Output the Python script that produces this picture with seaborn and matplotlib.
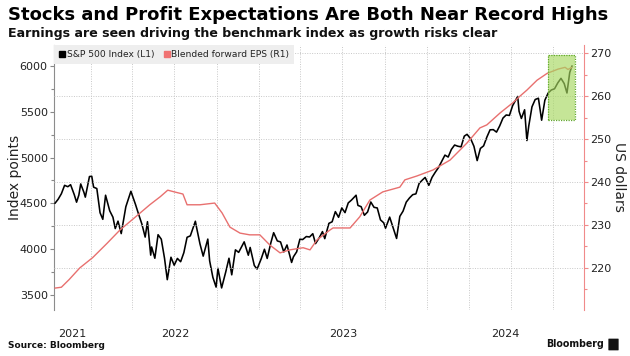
import numpy as np
import pandas as pd
import matplotlib
matplotlib.use("Agg")
import matplotlib.pyplot as plt
import matplotlib.dates as mdates
import matplotlib.ticker as mticker
from matplotlib.lines import Line2D
from matplotlib.patches import Rectangle, FancyBboxPatch
import seaborn as sns

# ---------------- data ----------------
sp_dates = [
    "2021-10-15", "2021-10-22", "2021-10-29", "2021-11-05", "2021-11-12", "2021-11-18", "2021-11-26",
    "2021-12-01", "2021-12-06", "2021-12-10", "2021-12-17", "2021-12-20", "2021-12-29",
    "2022-01-03", "2022-01-07", "2022-01-14", "2022-01-21", "2022-01-27", "2022-02-02", "2022-02-11",
    "2022-02-18", "2022-02-23", "2022-03-01", "2022-03-08", "2022-03-18", "2022-03-29", "2022-04-08",
    "2022-04-14", "2022-04-22", "2022-04-29", "2022-05-04", "2022-05-11", "2022-05-13", "2022-05-20",
    "2022-05-27", "2022-06-03", "2022-06-10", "2022-06-16", "2022-06-24", "2022-07-01", "2022-07-08",
    "2022-07-15", "2022-07-22", "2022-07-29", "2022-08-05", "2022-08-16", "2022-08-19", "2022-08-26",
    "2022-09-02", "2022-09-12", "2022-09-16", "2022-09-23", "2022-09-30", "2022-10-04", "2022-10-12",
    "2022-10-21", "2022-10-28", "2022-11-03", "2022-11-11", "2022-11-18", "2022-11-30", "2022-12-09",
    "2022-12-13", "2022-12-22", "2022-12-28", "2023-01-06", "2023-01-13", "2023-01-19", "2023-01-27",
    "2023-02-02", "2023-02-10", "2023-02-17", "2023-02-24", "2023-03-03", "2023-03-13", "2023-03-17",
    "2023-03-24", "2023-03-31", "2023-04-06", "2023-04-14", "2023-04-21", "2023-04-28", "2023-05-04",
    "2023-05-12", "2023-05-19", "2023-05-24", "2023-06-02", "2023-06-09", "2023-06-16", "2023-06-23",
    "2023-06-30", "2023-07-07", "2023-07-14", "2023-07-21", "2023-07-31", "2023-08-04", "2023-08-11",
    "2023-08-18", "2023-08-25", "2023-09-01", "2023-09-08", "2023-09-15", "2023-09-22", "2023-09-29",
    "2023-10-03", "2023-10-12", "2023-10-20", "2023-10-27", "2023-11-03", "2023-11-10", "2023-11-17",
    "2023-11-24", "2023-12-01", "2023-12-08", "2023-12-15", "2023-12-22", "2023-12-28", "2024-01-05",
    "2024-01-12", "2024-01-19", "2024-01-26", "2024-02-02", "2024-02-09", "2024-02-16", "2024-02-23",
    "2024-03-01", "2024-03-08", "2024-03-15", "2024-03-22", "2024-03-28", "2024-04-05", "2024-04-12",
    "2024-04-19", "2024-04-26", "2024-05-03", "2024-05-10", "2024-05-17", "2024-05-24", "2024-05-31",
    "2024-06-07", "2024-06-14", "2024-06-21", "2024-06-28", "2024-07-05", "2024-07-16", "2024-07-19",
    "2024-07-24", "2024-07-31", "2024-08-05", "2024-08-09", "2024-08-16", "2024-08-23", "2024-08-30",
    "2024-09-06", "2024-09-13", "2024-09-20", "2024-09-27", "2024-10-04", "2024-10-11", "2024-10-18",
    "2024-10-25", "2024-10-31", "2024-11-06", "2024-11-11",
]
sp_values = [
    4500, 4545, 4605, 4697, 4682, 4704, 4595,
    4513, 4591, 4712, 4620, 4568, 4793,
    4796, 4677, 4662, 4398, 4326, 4589, 4419,
    4349, 4225, 4306, 4170, 4463, 4632, 4488,
    4393, 4272, 4132, 4300, 3935, 4024, 3901,
    4158, 4109, 3901, 3667, 3912, 3825, 3899,
    3863, 3962, 4130, 4145, 4305, 4228, 4058,
    3924, 4110, 3873, 3693, 3586, 3791, 3577,
    3752, 3901, 3720, 3993, 3965, 4080, 3934,
    4019, 3822, 3783, 3895, 3999, 3899, 4071,
    4180, 4090, 4079, 3970, 4046, 3855, 3917,
    3971, 4109, 4105, 4138, 4133, 4169, 4061,
    4124, 4192, 4115, 4282, 4299, 4410, 4348,
    4450, 4399, 4505, 4536, 4589, 4478, 4464,
    4370, 4406, 4515, 4457, 4450, 4320, 4288,
    4229, 4350, 4224, 4117, 4358, 4415, 4514,
    4559, 4595, 4604, 4719, 4755, 4783, 4697,
    4784, 4840, 4891, 4959, 5027, 5006, 5089,
    5137, 5124, 5117, 5234, 5254, 5204, 5123,
    4967, 5100, 5128, 5223, 5303, 5305, 5278,
    5347, 5431, 5465, 5460, 5567, 5667, 5505,
    5427, 5522, 5186, 5344, 5554, 5634, 5648,
    5408, 5626, 5703, 5738, 5751, 5815, 5865,
    5808, 5705, 5929, 6001,
]

eps_dates = [
    "2021-10-15", "2021-10-29", "2021-11-15", "2021-12-08", "2022-01-05", "2022-02-05", "2022-03-05",
    "2022-04-05", "2022-05-09", "2022-06-01", "2022-06-17", "2022-07-05", "2022-07-20", "2022-07-29",
    "2022-08-26", "2022-09-27", "2022-10-13", "2022-10-30", "2022-11-21", "2022-12-12", "2023-01-03",
    "2023-01-25", "2023-02-16", "2023-03-09", "2023-04-07", "2023-04-22", "2023-05-07", "2023-06-04",
    "2023-06-11", "2023-07-18", "2023-08-08", "2023-08-30", "2023-09-27", "2023-11-03", "2023-11-14",
    "2023-12-10", "2024-01-14", "2024-02-20", "2024-03-28", "2024-04-25", "2024-05-10", "2024-06-08",
    "2024-07-06", "2024-07-21", "2024-08-05", "2024-08-27", "2024-09-18", "2024-10-12", "2024-10-27",
    "2024-11-02", "2024-11-11",
]
eps_values = [
    215.3, 215.5, 217.3, 220.0, 222.4, 225.7, 228.8,
    231.6, 234.7, 236.6, 238.1, 237.6, 237.2, 234.7,
    234.7, 235.1, 232.8, 229.5, 228.1, 227.7, 227.7,
    225.3, 223.5, 224.2, 224.7, 224.2, 226.5, 228.8,
    229.3, 229.3, 231.9, 235.8, 237.7, 238.8, 240.5,
    241.4, 242.8, 245.1, 249.1, 252.6, 253.3, 256.1,
    258.5, 260.0, 261.4, 263.7, 265.3, 266.3, 266.7,
    266.2, 266.7,
]

left_ticks = [3500, 4000, 4500, 5000, 5500, 6000]
right_ticks = [220, 230, 240, 250, 260, 270]
year_labels = ["2021", "2022", "2023", "2024"]
highlight_dates = ["2024-09-20", "2024-11-17"]
highlight_eps = [254.4, 269.5]

sp = pd.DataFrame({"date": pd.to_datetime(sp_dates), "value": sp_values})
eps = pd.DataFrame({"date": pd.to_datetime(eps_dates), "value": eps_values})

# ---------------- style ----------------
sns.set_theme(style="white")
plt.rcParams["font.family"] = ["DejaVu Sans"]

BLACK = "#000000"
RED = "#e8706f"
SPINE_RED = "#f08a8a"
GRID = "#c8c8c8"
TXT = "#222222"

W, H = 630, 356
fig = plt.figure(figsize=(W / 100, H / 100), dpi=100)
fig.patch.set_facecolor("white")

L, R, T, B = 54, 584, 45, 310
ax = fig.add_axes([L / W, 1 - B / H, (R - L) / W, (B - T) / H])
ax2 = ax.twinx()

sns.lineplot(data=sp, x="date", y="value", ax=ax, color=BLACK, linewidth=1.15, zorder=3)
sns.lineplot(data=eps, x="date", y="value", ax=ax2, color=RED, linewidth=1.0, zorder=3)

x0 = pd.Timestamp("2021-10-13")
x1 = pd.Timestamp("2024-12-07")
ax.set_xlim(x0, x1)
ax.set_ylim(3336, 6229)
ax2.set_ylim(210.2, 271.9)

# y axes
ax.yaxis.set_major_locator(mticker.FixedLocator(left_ticks))
ax.yaxis.set_minor_locator(mticker.MultipleLocator(250))
ax2.yaxis.set_major_locator(mticker.FixedLocator(right_ticks))
ax2.yaxis.set_minor_locator(mticker.MultipleLocator(5))
ax.yaxis.set_major_formatter(mticker.FuncFormatter(lambda v, p: f"{int(v)}"))
ax2.yaxis.set_major_formatter(mticker.FuncFormatter(lambda v, p: f"{int(v)}"))

ax.tick_params(axis="y", which="major", length=3, width=0.8, color="#888888",
               labelsize=8, labelcolor=TXT, pad=1.5, left=True)
ax.tick_params(axis="y", which="minor", length=2, width=0.8, color="#888888", left=True)
ax2.tick_params(axis="y", which="major", length=3, width=0.8, color=SPINE_RED,
                labelsize=8, labelcolor=TXT, pad=1.5, right=True)
ax2.tick_params(axis="y", which="minor", length=2, width=0.8, color=SPINE_RED, right=True)

# x axis: quarterly gridlines, year labels centred in visible year span
ax.xaxis.set_minor_locator(mdates.MonthLocator(bymonth=[1, 4, 7, 10]))
centers = []
for y in year_labels:
    s = max(pd.Timestamp(f"{y}-01-01"), x0)
    e = min(pd.Timestamp(f"{int(y) + 1}-01-01"), x1)
    centers.append(mdates.date2num(s) + (mdates.date2num(e) - mdates.date2num(s)) / 2)
ax.xaxis.set_major_locator(mticker.FixedLocator(centers))
ax.xaxis.set_major_formatter(mticker.FixedFormatter(year_labels))
ax.tick_params(axis="x", which="both", length=0, labelsize=8, labelcolor=TXT, pad=14)

ax.grid(False)
ax2.grid(False)
ax.xaxis.grid(True, which="minor", linestyle=(0, (1, 1.5)), color=GRID, linewidth=0.7)
ax2.yaxis.grid(True, which="major", linestyle=(0, (1, 1.5)), color=GRID, linewidth=0.7)
ax2.set_axisbelow(True)

for a in (ax, ax2):
    a.set_xlabel("")
    a.set_ylabel("")
    a.spines["top"].set_visible(False)
    a.spines["bottom"].set_visible(False)
ax.spines["right"].set_visible(False)
ax2.spines["left"].set_visible(False)
ax.spines["left"].set_color("#8c8c8c")
ax.spines["left"].set_linewidth(0.8)
ax2.spines["right"].set_color(SPINE_RED)
ax2.spines["right"].set_linewidth(0.8)

# highlight box
hx0 = mdates.date2num(pd.Timestamp(highlight_dates[0]))
hx1 = mdates.date2num(pd.Timestamp(highlight_dates[1]))
ax2.add_patch(Rectangle((hx0, highlight_eps[0]), hx1 - hx0, highlight_eps[1] - highlight_eps[0],
                        facecolor="#a6d860", alpha=0.65, edgecolor="none", zorder=5))
ax2.add_patch(Rectangle((hx0, highlight_eps[0]), hx1 - hx0, highlight_eps[1] - highlight_eps[0],
                        facecolor="none", edgecolor="#62a82e", linewidth=0.9,
                        linestyle=(0, (1, 1)), zorder=6))

# legend
handles = [Line2D([], [], marker="s", linestyle="none", color=BLACK, markersize=5),
           Line2D([], [], marker="s", linestyle="none", color="#f07272", markersize=5)]
leg = ax2.legend(handles, ["S&P 500 Index (L1)", "Blended forward EPS (R1)"],
                 loc="upper left", bbox_to_anchor=(0.0, 1.0), ncol=2, frameon=True,
                 fancybox=False, facecolor="#eeeeee", edgecolor="none", framealpha=1,
                 fontsize=6.6, handlelength=0.7, handletextpad=0.15, columnspacing=1.0,
                 borderaxespad=0.0, borderpad=0.55)
leg.set_zorder(10)
for t in leg.get_texts():
    t.set_color(TXT)

# axis titles
fig.text(15 / W, 1 - 177 / H, "Index points", rotation=90, ha="center", va="center",
         fontsize=10, color=TXT)
fig.text(619 / W, 1 - 177 / H, "US dollars", rotation=270, ha="center", va="center",
         fontsize=10, color=TXT)

# titles
title = fig.text(8 / W, 1 - 15 / H, "Stocks and Profit Expectations Are Both Near Record Highs",
                 ha="left", va="center", fontsize=12, fontweight="bold", color="#000000")
subtitle = fig.text(8 / W, 1 - 34 / H,
                    "Earnings are seen driving the benchmark index as growth risks clear",
                    ha="left", va="center", fontsize=9, fontweight="bold", color="#111111")
source = fig.text(8 / W, 1 - 345 / H, "Source: Bloomberg", ha="left", va="center",
                  fontsize=6.5, fontweight="bold", color="#111111")
logo = fig.text(604 / W, 1 - 344 / H, "Bloomberg", ha="right", va="center",
                fontsize=9, fontweight="bold", color="#111111")
fig.add_artist(FancyBboxPatch((609 / W, 1 - 350 / H), 9 / W, 11 / H,
                              boxstyle="round,pad=0.001", transform=fig.transFigure,
                              facecolor="#111111", edgecolor="none"))


def fit_width(txt, target_px):
    r = fig.canvas.get_renderer()
    w = txt.get_window_extent(r).width
    txt.set_fontsize(txt.get_fontsize() * target_px / w)


fig.canvas.draw()
fit_width(title, 600)
fit_width(subtitle, 489)
fit_width(source, 97)
fit_width(logo, 58)

fig.savefig("out.png", dpi=100, facecolor="white")
